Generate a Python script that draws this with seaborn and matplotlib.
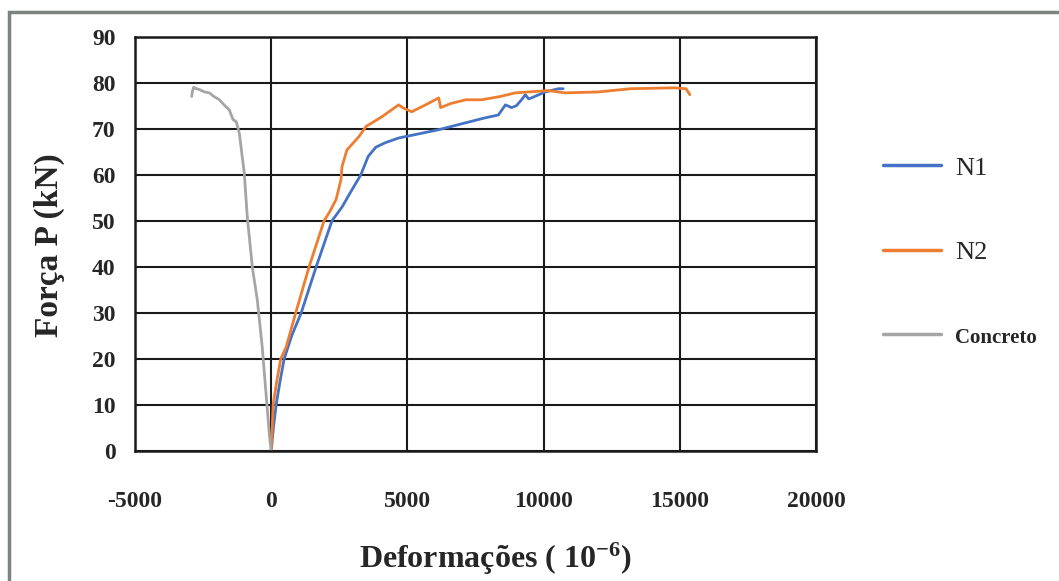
import numpy as np
import pandas as pd
import seaborn as sns
import matplotlib.pyplot as plt
from matplotlib.patches import Rectangle

# ---------------- data ----------------
n1_x = [0, 80, 180, 320, 475, 750, 1100, 1650, 2230, 2600, 2960, 3290, 3560, 3840,
        4200, 4680, 5500, 6150, 7140, 7800, 8340, 8600, 8820, 9000, 9190, 9330,
        9450, 9550, 10060, 10540, 10720]
n1_y = [0, 5, 10, 15, 20, 25, 30, 40, 50, 53, 56.7, 60, 64, 66,
        67, 68, 69, 69.8, 71.3, 72.3, 73, 75.2, 74.6, 75, 76.3, 77.4,
        76.5, 76.7, 78, 78.7, 78.7]

n2_x = [0, 70, 200, 350, 550, 900, 1390, 1940, 2150, 2380, 2560, 2600, 2780, 3220,
        3480, 4060, 4680, 4850, 5160, 5600, 6150, 6220, 6600, 7140, 7720, 8400,
        8960, 10170, 10790, 12000, 13200, 14800, 15230, 15370]
n2_y = [0, 10, 15, 20, 22.6, 30, 40, 50, 52, 54.6, 58.9, 61.8, 65.4, 68.3,
        70.5, 72.6, 75.2, 74.5, 73.7, 75, 76.7, 74.6, 75.5, 76.3, 76.3, 77,
        77.8, 78.3, 77.8, 78.0, 78.7, 78.9, 78.7, 77.4]

conc_x = [0, -60, -180, -330, -510, -695, -880, -990, -1170, -1280, -1400, -1540,
          -1700, -1900, -2100, -2270, -2450, -2630, -2780, -2850, -2900, -2920]
conc_y = [0, 3, 11.7, 22.6, 32.8, 40, 51, 60.4, 69, 71.5, 72, 74.1,
          75, 76.3, 77, 77.8, 78, 78.5, 78.8, 79, 78, 77]

series = ["N1", "N2", "Concreto"]
colors = {"N1": "#4472C4", "N2": "#ED7D31", "Concreto": "#A5A5A5"}

x_ticks = [-5000, 0, 5000, 10000, 15000, 20000]
y_ticks = [0, 10, 20, 30, 40, 50, 60, 70, 80, 90]

# ---------------- figure ----------------
sns.set_theme(style="white")
plt.rcParams["font.family"] = ["Liberation Serif", "DejaVu Serif"]
plt.rcParams["mathtext.fontset"] = "custom"
plt.rcParams["mathtext.rm"] = "Liberation Serif:bold"
plt.rcParams["mathtext.it"] = "Liberation Serif:bold"
plt.rcParams["mathtext.bf"] = "Liberation Serif:bold"

df = pd.concat([
    pd.DataFrame({"x": n1_x, "y": n1_y, "serie": "N1"}),
    pd.DataFrame({"x": n2_x, "y": n2_y, "serie": "N2"}),
    pd.DataFrame({"x": conc_x, "y": conc_y, "serie": "Concreto"}),
], ignore_index=True)

fig = plt.figure(figsize=(10.59, 5.81), dpi=100)
ax = fig.add_axes([0.1275, 0.2238, 0.643, 0.713])

sns.lineplot(data=df, x="x", y="y", hue="serie", hue_order=series, palette=colors,
             sort=False, estimator=None, linewidth=2.0, ax=ax, legend=True)

ax.set_xlim(-5000, 20000)
ax.set_ylim(0, 90)
ax.set_xticks(x_ticks)
ax.set_yticks(y_ticks)
ax.set_xticklabels([str(v) for v in x_ticks])
ax.set_yticklabels([str(v) for v in y_ticks])
ax.grid(True, color="#1a1a1a", linewidth=1.5)
ax.set_axisbelow(True)
for sp in ax.spines.values():
    sp.set_color("#1a1a1a")
    sp.set_linewidth(1.8)
    sp.set_visible(True)

ax.tick_params(axis="x", length=0, pad=29, labelsize=17)
ax.tick_params(axis="y", length=0, pad=14, labelsize=17)
for lbl in ax.get_xticklabels() + ax.get_yticklabels():
    lbl.set_fontweight("bold")

ax.set_xlabel(r"Deformações ( $10^{-6}$)", fontsize=23, fontweight="bold")
ax.set_ylabel("Força P (kN)", fontsize=24, fontweight="bold")
ax.xaxis.set_label_coords(0.529, -0.218)
ax.yaxis.set_label_coords(-0.103, 0.496)

# legend
handles, labels = ax.get_legend_handles_labels()
ax.get_legend().remove()
leg = ax.legend(handles, labels, loc="upper left", bbox_to_anchor=(0.811, 0.772),
                bbox_transform=fig.transFigure, frameon=False, fontsize=19,
                handlelength=2.2, handletextpad=0.55, labelspacing=2.3)
for line in leg.get_lines():
    line.set_linewidth(2.5)
texts = leg.get_texts()
texts[2].set_fontsize(15)
texts[2].set_fontweight("bold")

# outer frame
fig.patches.append(Rectangle((8.5 / 1059, -0.1), 1.2, 0.98 + 0.1,
                             transform=fig.transFigure, fill=False,
                             edgecolor="#7d837e", linewidth=2.5))

fig.savefig("out.png", dpi=100)
